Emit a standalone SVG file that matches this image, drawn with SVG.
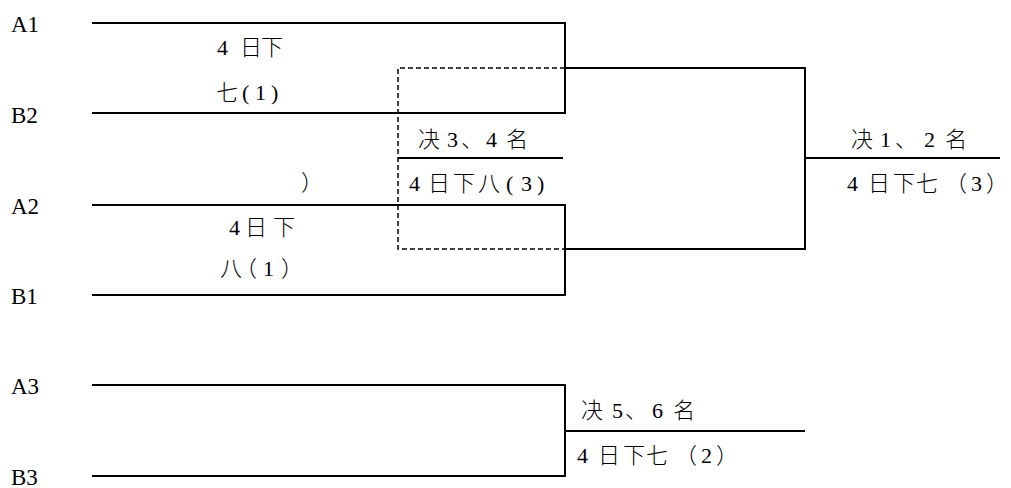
<svg xmlns="http://www.w3.org/2000/svg" width="1011" height="488" viewBox="0 0 1011 488">
<style>
.l{stroke:#000;stroke-width:2;fill:none}
.d{stroke:#000;stroke-width:1.5;fill:none;stroke-dasharray:5,3}
text{font-family:"Liberation Serif","Noto Sans CJK SC",serif;fill:#000}
.n{font-size:23px}
.c{font-size:22px;font-weight:300}
</style>
<rect width="1011" height="488" fill="#fff"/>
<g id="labels">
<text class="n" x="11" y="32">A1</text>
<text class="n" x="11" y="123">B2</text>
<text class="n" x="11" y="214">A2</text>
<text class="n" x="11" y="304">B1</text>
<text class="n" x="11" y="394">A3</text>
<text class="n" x="11" y="485">B3</text>
</g>
<g id="connectors">
<path class="l" d="M92 23H565V113H92"/>
<path class="l" d="M92 205H565V295H92"/>
<path class="l" d="M565 68H805V249H565"/>
<path class="l" d="M805 158H1000"/>
<path class="l" d="M398 158H563"/>
<path class="d" d="M565 68H398V249H565"/>
<path class="l" d="M92 385H565V476H92"/>
<path class="l" d="M565 431H805"/>
</g>
<g id="m1">
<text class="c" x="217 229 240 261" y="55">4 日下</text>
<text class="c" x="216 242 255 271" y="100">七(1)</text>
</g>
<g id="m2">
<text class="c" x="229 240 245 273" y="235">4 日下</text>
<text class="c" x="220 235 263 281" y="276">八（1）</text>
</g>
<g id="stray"><text class="c" x="301" y="190">）</text></g>
<g id="m34">
<text class="c" x="418 440 447 461 486 497 506" y="147">决 3、4 名</text>
<text class="c" x="409 421 428 453 478 506 521 537" y="191">4 日下八(3)</text>
</g>
<g id="m12">
<text class="c" x="851 873 880 895 924 937 945" y="147">决 1、2 名</text>
<text class="c" x="847 858 868 893 916 945 971 986" y="191">4 日下七（3）</text>
</g>
<g id="m56">
<text class="c" x="581 603 612 625 652 665 673" y="418">决 5、6 名</text>
<text class="c" x="577 589 598 623 646 675 701 716" y="463">4 日下七（2）</text>
</g>
</svg>
